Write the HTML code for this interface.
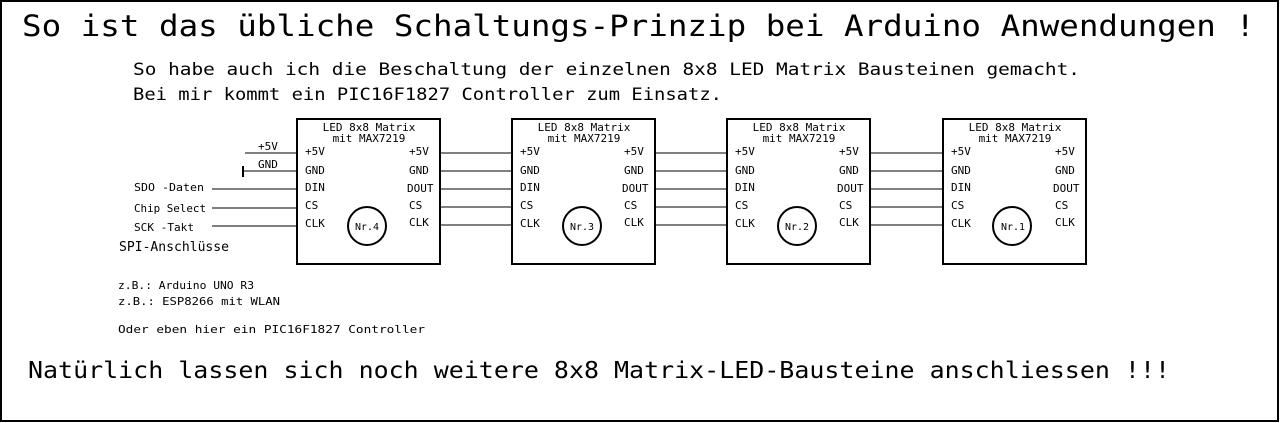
<!DOCTYPE html>
<html><head><meta charset="utf-8"><style>
html,body{margin:0;padding:0;background:#fff;width:1280px;height:423px;overflow:hidden}
svg{display:block}
text{font-family:"DejaVu Sans Mono","Liberation Mono",monospace;fill:#000}
</style></head><body>
<svg width="1280" height="423" viewBox="0 0 1280 423" xmlns="http://www.w3.org/2000/svg">
<rect x="1" y="1" width="1277" height="420" fill="none" stroke="#000" stroke-width="2"/>
<text x="22" y="36" font-size="29" textLength="1233" lengthAdjust="spacingAndGlyphs">So ist das übliche Schaltungs-Prinzip bei Arduino Anwendungen !</text>
<text x="133" y="75" font-size="17" textLength="947" lengthAdjust="spacingAndGlyphs">So habe auch ich die Beschaltung der einzelnen 8x8 LED Matrix Bausteinen gemacht.</text>
<text x="133" y="100" font-size="17" textLength="589" lengthAdjust="spacingAndGlyphs">Bei mir kommt ein PIC16F1827 Controller zum Einsatz.</text>

<g stroke="#000" stroke-width="1" fill="none">
<line x1="245" y1="153" x2="297" y2="153"/>
<line x1="243" y1="171" x2="297" y2="171"/>
<line x1="243" y1="166" x2="243" y2="177" stroke-width="2"/>
<line x1="212" y1="189" x2="297" y2="189"/>
<line x1="212" y1="208" x2="297" y2="208"/>
<line x1="212" y1="226" x2="297" y2="226"/>
</g>
<g font-size="11">
<text x="258" y="150">+5V</text>
<text x="258" y="168">GND</text>
<text x="134" y="191" textLength="70" lengthAdjust="spacingAndGlyphs">SDO -Daten</text>
<text x="134" y="212" textLength="72" lengthAdjust="spacingAndGlyphs">Chip Select</text>
<text x="134" y="231" textLength="60" lengthAdjust="spacingAndGlyphs">SCK -Takt</text>
</g>
<text x="119" y="251" font-size="13" textLength="110" lengthAdjust="spacingAndGlyphs">SPI-Anschlüsse</text>

<g id="b">
</g>
<!-- boxes -->
<g stroke="#000" fill="none">
<rect x="297" y="119" width="143" height="145" stroke-width="2"/>
<rect x="512" y="119" width="143" height="145" stroke-width="2"/>
<rect x="727" y="119" width="143" height="145" stroke-width="2"/>
<rect x="943" y="119" width="143" height="145" stroke-width="2"/>
<circle cx="367" cy="226" r="19" stroke-width="2"/>
<circle cx="582" cy="226" r="19" stroke-width="2"/>
<circle cx="797" cy="226" r="19" stroke-width="2"/>
<circle cx="1012" cy="226" r="19" stroke-width="2"/>
<g stroke-width="1">
<path d="M440 153H512M440 171H512M440 189H512M440 207H512M440 225H512"/>
<path d="M655 153H727M655 171H727M655 189H727M655 207H727M655 225H727"/>
<path d="M870 153H943M870 171H943M870 189H943M870 207H943M870 225H943"/>
</g>
</g>
<g font-size="11">
<g transform="translate(297,0)">
<text x="72" y="131" text-anchor="middle">LED 8x8 Matrix</text>
<text x="72" y="142" text-anchor="middle">mit MAX7219</text>
<text x="8" y="155">+5V</text><text x="8" y="174">GND</text><text x="8" y="191">DIN</text><text x="8" y="209">CS</text><text x="8" y="227">CLK</text>
<text x="112" y="155">+5V</text><text x="112" y="174">GND</text><text x="110" y="192">DOUT</text><text x="112" y="209">CS</text><text x="112" y="226">CLK</text>
<text x="70" y="230" text-anchor="middle" font-size="10">Nr.4</text>
</g>
<g transform="translate(512,0)">
<text x="72" y="131" text-anchor="middle">LED 8x8 Matrix</text>
<text x="72" y="142" text-anchor="middle">mit MAX7219</text>
<text x="8" y="155">+5V</text><text x="8" y="174">GND</text><text x="8" y="191">DIN</text><text x="8" y="209">CS</text><text x="8" y="227">CLK</text>
<text x="112" y="155">+5V</text><text x="112" y="174">GND</text><text x="110" y="192">DOUT</text><text x="112" y="209">CS</text><text x="112" y="226">CLK</text>
<text x="70" y="230" text-anchor="middle" font-size="10">Nr.3</text>
</g>
<g transform="translate(727,0)">
<text x="72" y="131" text-anchor="middle">LED 8x8 Matrix</text>
<text x="72" y="142" text-anchor="middle">mit MAX7219</text>
<text x="8" y="155">+5V</text><text x="8" y="174">GND</text><text x="8" y="191">DIN</text><text x="8" y="209">CS</text><text x="8" y="227">CLK</text>
<text x="112" y="155">+5V</text><text x="112" y="174">GND</text><text x="110" y="192">DOUT</text><text x="112" y="209">CS</text><text x="112" y="226">CLK</text>
<text x="70" y="230" text-anchor="middle" font-size="10">Nr.2</text>
</g>
<g transform="translate(943,0)">
<text x="72" y="131" text-anchor="middle">LED 8x8 Matrix</text>
<text x="72" y="142" text-anchor="middle">mit MAX7219</text>
<text x="8" y="155">+5V</text><text x="8" y="174">GND</text><text x="8" y="191">DIN</text><text x="8" y="209">CS</text><text x="8" y="227">CLK</text>
<text x="112" y="155">+5V</text><text x="112" y="174">GND</text><text x="110" y="192">DOUT</text><text x="112" y="209">CS</text><text x="112" y="226">CLK</text>
<text x="70" y="230" text-anchor="middle" font-size="10">Nr.1</text>
</g>
</g>

<g font-size="11">
<text x="118" y="289" textLength="136" lengthAdjust="spacingAndGlyphs">z.B.: Arduino UNO R3</text>
<text x="118" y="305" textLength="162" lengthAdjust="spacingAndGlyphs">z.B.: ESP8266 mit WLAN</text>
<text x="118" y="333" textLength="307" lengthAdjust="spacingAndGlyphs">Oder eben hier ein PIC16F1827 Controller</text>
</g>
<text x="28" y="378" font-size="23" textLength="1142" lengthAdjust="spacingAndGlyphs">Natürlich lassen sich noch weitere 8x8 Matrix-LED-Bausteine anschliessen !!!</text>
</svg>
</body></html>
